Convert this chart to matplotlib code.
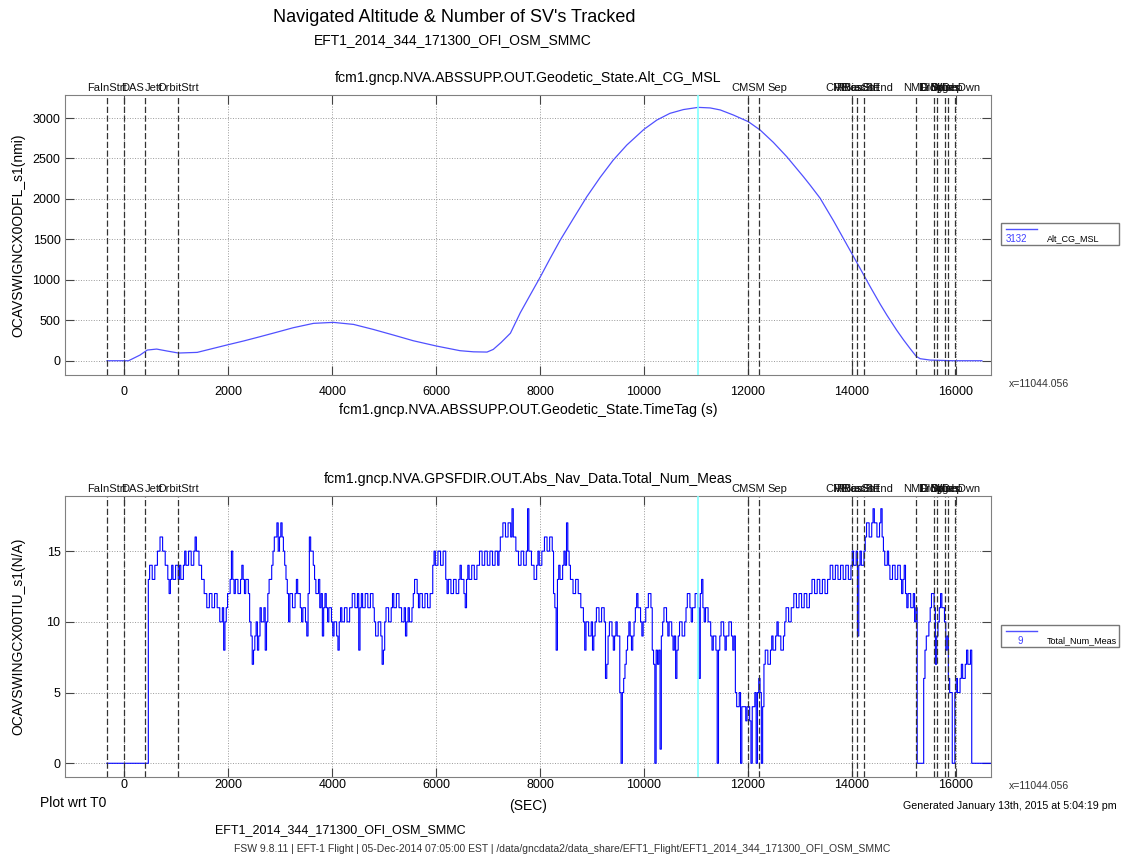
import numpy as np
import matplotlib.pyplot as plt
from matplotlib.patches import Rectangle
from matplotlib.lines import Line2D

plt.rcParams['font.family'] = ['Liberation Sans', 'DejaVu Sans']

# event markers (sec wrt T0)
event_t = [-335, 0, 398, 1034, 12012, 12218, 14002, 14095, 14245,
           15240, 15587, 15635, 15789, 15852, 15996]
event_lbl = ["FaInStrt", "DAS", "Jett", "OrbitStrt", "CMSM", "Sep", "CMRcsStrt", "RBiasStrt",
             "RBiasSEnd", "NMD", "EIDrg", "Drogue", "Mains", "MDep", "SplshDwn"]
# label nudges (pixels) where the original moved a label off its line
label_nudge = {"DAS": 8, "Jett": 9, "Sep": 18}
cursor_t = 11044.056

# navigated altitude (nmi)
alt_t = [-335, 0, 80, 300, 440, 620, 820, 1040, 1400, 1970, 2300, 2610, 2930, 3250,
         3640, 4020, 4410, 4790, 5180, 5560, 6010, 6460, 6720, 6980, 7100, 7250,
         7430, 7620, 7810, 8000, 8195, 8390, 8644, 8900, 9157, 9410, 9670, 10000,
         10248, 10500, 10761, 11044, 11275, 11470, 11723, 12010, 12237, 12490,
         12750, 13070, 13200, 13390, 13649, 14000, 14162, 14360, 14547, 14680,
         14868, 15000, 15124, 15240, 15317, 15510, 15960, 16505]
alt_nmi = [0, 0, 0, 70, 132, 144, 120, 95, 103, 194, 245, 297, 352, 408,
           462, 474, 449, 387, 317, 247, 181, 124, 110, 107, 140, 225,
           340, 593, 812, 1030, 1265, 1492, 1760, 2027, 2266, 2481, 2666, 2860,
           2975, 3058, 3105, 3132, 3125, 3100, 3037, 2955, 2852, 2700,
           2522, 2275, 2170, 2010, 1730, 1327, 1140, 910, 700, 560,
           375, 255, 150, 55, 25, 8, 0, 0]

# total number of GPS measurements: samples every 50 s from t=-340 ...
meas_t0 = -340
meas_dt = 50
num_meas = [
    0, 0, 0, 0, 0, 0, 0, 0, 0, 0, 0, 0, 0, 0, 0, 0, 13, 14, 13, 14,
    15, 16, 15, 14, 12, 14, 13, 14, 14, 13, 15, 14, 15, 14, 16, 15, 14, 13, 12, 11,
    12, 11, 12, 11, 10, 8, 11, 12, 15, 12, 13, 12, 14, 12, 13, 10, 7, 9, 8, 11,
    10, 8, 12, 13, 15, 16, 15, 17, 15, 13, 10, 12, 11, 13, 12, 10, 11, 9, 16, 15,
    13, 12, 11, 9, 12, 10, 11, 9, 10, 8, 11, 10, 11, 10, 11, 12, 11, 8, 12, 11,
    12, 11, 12, 10, 9, 10, 7, 10, 11, 10, 12, 11, 12, 11, 10, 9, 11, 10, 12, 13,
    11, 12, 11, 12, 11, 12, 15, 14, 15, 14, 15, 12, 13, 12, 13, 12, 14, 13, 11, 14,
    13, 14, 13, 14, 15, 14, 15, 14, 15, 14, 15, 15, 16, 17, 16, 17, 18, 16, 15, 14,
    15, 14, 18, 15, 14, 13, 15, 14, 15, 16, 15, 16, 12, 8, 14, 13, 15, 17, 14, 13,
    12, 13, 12, 11, 8, 10, 9, 8, 10, 11, 10, 11, 6, 9, 10, 8, 10, 9, 0, 6,
    8, 10, 8, 10, 12, 11, 9, 10, 11, 12, 8, 0, 7, 1, 10, 11, 9, 10, 8, 6,
    9, 10, 9, 11, 12, 10, 11, 12, 6, 13, 10, 11, 10, 8, 9, 0, 9, 10, 8, 9,
    10, 8, 5, 4, 0, 4, 3, 4, 0, 4, 0, 6, 0, 7, 8, 7, 9, 8, 10, 9,
    8, 10, 11, 10, 11, 12, 11, 12, 11, 12, 11, 12, 13, 12, 13, 12, 13, 12, 13, 14,
    13, 14, 13, 14, 13, 14, 13, 15, 14, 9, 15, 14, 16, 17, 16, 18, 17, 16, 18, 15,
    14, 14, 13, 14, 13, 14, 12, 14, 11, 12, 11, 10, 0, 0, 0, 8, 9, 11, 12, 7,
    10, 12, 11, 8, 6, 5, 0, 6, 5, 7, 6, 8, 7, 0, 0, 0, 0, 0, 0, 0, 0,
]
# ... and the reading 25 s after each of those samples
num_meas_half = [
    0, 0, 0, 0, 0, 0, 0, 0, 0, 0, 0, 0, 0, 0, 0, 0, 14, 13, 14, 15,
    16, 15, 14, 13, 13, 13, 14, 13, 13, 14, 14, 15, 14, 15, 15, 14, 13, 12, 11, 12,
    11, 12, 11, 10, 11, 10, 12, 13, 13, 13, 12, 13, 13, 13, 12, 9, 8, 10, 9, 10,
    11, 10, 13, 14, 16, 17, 16, 16, 14, 12, 12, 11, 12, 12, 11, 11, 10, 12, 15, 14,
    12, 13, 12, 11, 11, 11, 10, 10, 9, 10, 10, 11, 10, 11, 12, 11, 12, 11, 11, 12,
    11, 12, 11, 9, 10, 9, 8, 11, 10, 11, 11, 12, 11, 10, 11, 10, 10, 11, 13, 12,
    12, 11, 12, 11, 12, 14, 14, 15, 14, 15, 13, 13, 12, 13, 12, 13, 13, 12, 13, 13,
    14, 13, 14, 15, 14, 15, 14, 15, 14, 15, 14, 16, 17, 16, 17, 16, 16, 15, 14, 15,
    14, 15, 15, 14, 13, 14, 14, 15, 16, 15, 16, 15, 11, 13, 13, 14, 14, 15, 13, 12,
    13, 12, 11, 10, 10, 9, 10, 9, 11, 10, 11, 10, 7, 10, 9, 9, 9, 5, 5, 7,
    9, 9, 9, 11, 11, 10, 10, 11, 12, 11, 7, 8, 8, 9, 11, 10, 10, 9, 9, 8,
    10, 9, 10, 12, 11, 11, 12, 11, 12, 11, 11, 10, 9, 9, 8, 8, 10, 9, 9, 10,
    9, 9, 4, 5, 4, 4, 4, 3, 4, 5, 5, 5, 4, 8, 7, 8, 8, 9, 9, 8,
    9, 11, 10, 11, 12, 11, 12, 11, 12, 11, 12, 13, 12, 13, 12, 13, 12, 13, 14, 13,
    14, 13, 14, 13, 14, 13, 14, 14, 15, 14, 14, 15, 17, 16, 17, 17, 16, 17, 16, 14,
    15, 13, 14, 13, 14, 13, 13, 12, 12, 11, 12, 11, 0, 0, 6, 9, 10, 12, 11, 9,
    11, 11, 10, 9, 5, 0, 5, 5, 6, 6, 7, 7, 8, 0, 0, 0, 0, 0, 0, 0, 0,
]
meas = np.empty(2 * len(num_meas))
meas[0::2] = num_meas
meas[1::2] = num_meas_half
meas_t = meas_t0 + (meas_dt / 2) * np.arange(len(meas))

W, H = 1121, 859
fig = plt.figure(figsize=(W / 100, H / 100), dpi=100)
ax1 = fig.add_axes([0.0577, 0.5634, 0.8263, 0.3263])
ax2 = fig.add_axes([0.0577, 0.0958, 0.8263, 0.3268])


def style(ax, pad):
    ax.set_xlim(-1150, 16680)
    ax.set_xticks(np.arange(0, 16001, 2000))
    ax.set_axisbelow(True)
    ax.grid(True, linestyle=':', color='#9a9a9a', linewidth=0.7)
    ax.tick_params(direction='in', length=6.5, width=0.8, color='#444444',
                   top=True, right=True, labelsize=9)
    ax.tick_params(axis='x', pad=pad)
    ax.tick_params(axis='y', pad=3)
    for s in ax.spines.values():
        s.set_color('#808080')
    trans = ax.get_xaxis_transform()
    for t, lbl in zip(event_t, event_lbl):
        ax.axvline(t, color='#333333', lw=0.9, dashes=(5, 2))
        ax.annotate(lbl, (t, 1.0), xycoords=trans,
                    xytext=(label_nudge.get(lbl, 0) * 0.72, 1.5), textcoords='offset points',
                    ha='center', va='bottom', fontsize=8, color='#111111')
    ax.axvline(cursor_t, color='#80ffff', lw=1.2, zorder=5)


# top: altitude
ax1.plot(alt_t, alt_nmi, color='#5050ff', lw=0.9)
style(ax1, 8)
ax1.set_ylim(-177, 3288)
ax1.set_yticks(np.arange(0, 3001, 500))
ax1.set_title("fcm1.gncp.NVA.ABSSUPP.OUT.Geodetic_State.Alt_CG_MSL", fontsize=10.2, pad=9)
ax1.set_xlabel("fcm1.gncp.NVA.ABSSUPP.OUT.Geodetic_State.TimeTag (s)", fontsize=10.2)
ax1.xaxis.set_label_coords(0.5, -0.1)

# bottom: number of measurements
ax2.plot(meas_t, meas, drawstyle='steps-post', color='#0000ff', lw=0.8)
style(ax2, 1.5)
ax2.set_ylim(-0.95, 18.9)
ax2.set_yticks([0, 5, 10, 15])
ax2.set_title("fcm1.gncp.NVA.GPSFDIR.OUT.Abs_Nav_Data.Total_Num_Meas", fontsize=10.2, pad=9)


def fx(px):
    return px / W


def fy(py):
    return 1 - py / H


fig.text(fx(18), fy(235), "OCAVSWIGNCX0ODFL_s1(nmi)", rotation=90, ha='center', va='center', fontsize=10)
fig.text(fx(18), fy(636), "OCAVSWINGCX00TIU_s1(N/A)", rotation=90, ha='center', va='center', fontsize=10)

fig.text(fx(454), fy(18), "Navigated Altitude & Number of SV's Tracked", ha='center', va='center', fontsize=13)
fig.text(fx(453), fy(40), "EFT1_2014_344_171300_OFI_OSM_SMMC", ha='center', va='center', fontsize=10)

# legend boxes
for top, bot, line_y, val, name in [(223.5, 245, 228.5, "3132", "Alt_CG_MSL"),
                                    (625, 647, 630.5, "9", "Total_Num_Meas")]:
    fig.patches.append(Rectangle((fx(1001), fy(bot)), fx(1119) - fx(1001), fy(top) - fy(bot),
                                 transform=fig.transFigure, fill=False, edgecolor='#777777', lw=1))
    fig.lines.append(Line2D([fx(1006), fx(1037)], [fy(line_y), fy(line_y)],
                            transform=fig.transFigure, color='#5050ff', lw=1))
    fig.text(fx(1006) if len(val) > 1 else fx(1018), fy(line_y + 10.5), val, color='#4040ff',
             fontsize=7, ha='left', va='center')
    fig.text(fx(1047), fy(line_y + 10), name, fontsize=6.5, ha='left', va='center')

fig.text(fx(1009), fy(384), "x=11044.056", fontsize=7.6, ha='left', va='center', color='#333333')
fig.text(fx(1009), fy(786), "x=11044.056", fontsize=7.6, ha='left', va='center', color='#333333')

fig.text(fx(528), fy(806), "(SEC)", fontsize=10, ha='center', va='center')
fig.text(fx(40), fy(803), "Plot wrt T0", fontsize=10, ha='left', va='center')
fig.text(fx(1117), fy(806), "Generated January 13th, 2015 at 5:04:19 pm", fontsize=7.7, ha='right', va='center')
fig.text(fx(215), fy(830), "EFT1_2014_344_171300_OFI_OSM_SMMC", fontsize=9, ha='left', va='center')
fig.text(fx(562), fy(849),
         "FSW 9.8.11 | EFT-1 Flight | 05-Dec-2014 07:05:00 EST | "
         "/data/gncdata2/data_share/EFT1_Flight/EFT1_2014_344_171300_OFI_OSM_SMMC",
         fontsize=7.5, ha='center', va='center', color='#333333')

fig.savefig("out.png", dpi=100)
